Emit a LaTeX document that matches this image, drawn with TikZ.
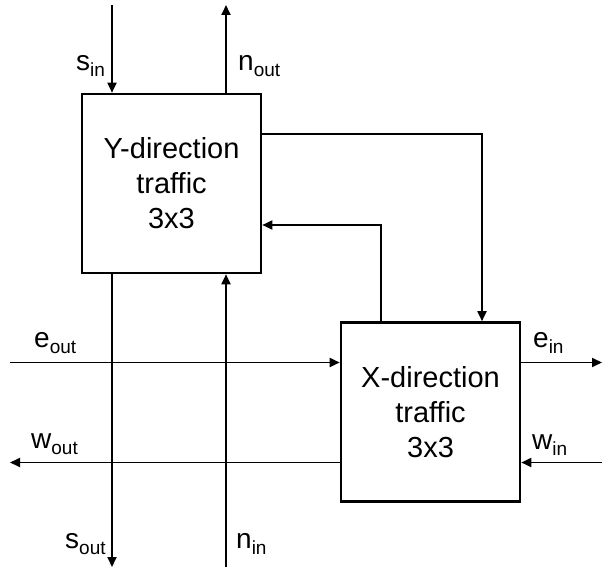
\documentclass[tikz,border=0pt]{standalone}
\usepackage{fontspec}
\setmainfont{Liberation Sans}
\usetikzlibrary{arrows.meta}
\newcommand{\lbl}[2]{#1\raisebox{-6pt}{\fontsize{19}{19}\selectfont #2}}
\tikzset{
  blk/.style={draw, line width=2.6pt, minimum width=179pt, minimum height=179pt, align=center, font=\fontsize{29}{35}\selectfont, inner sep=0pt},
  wire/.style={line width=1.8pt, -{Triangle[length=10pt,width=9pt]}},
  lab/.style={font=\fontsize{28}{28}\selectfont, inner sep=0pt, anchor=base west}
}
\begin{document}
\begin{tikzpicture}[x=1pt,y=-1pt]
\useasboundingbox (0,0) rectangle (602,575);
\node[blk] (Y) at (171.5,183.5) {Y-direction\\traffic\\3x3};
\node[blk] (X) at (430.5,412) {X-direction\\traffic\\3x3};
% vertical lines
\coordinate (sinT) at (112,5);
\coordinate (noutT) at (226,5);
\coordinate (soutB) at (112,567);
\coordinate (ninB) at (226,567);
\draw[wire] (sinT) -- (sinT |- Y.north);
\draw[wire] (noutT |- Y.north) -- (noutT);
\draw[wire] (sinT |- Y.south) -- (soutB);
\draw[wire] (ninB) -- (ninB |- Y.south);
% horizontal lines
\coordinate (eoutL) at (10,362.5);
\coordinate (woutL) at (10,462.5);
\coordinate (einR) at (602,362.5);
\coordinate (winR) at (602,462.5);
\draw[wire] (eoutL) -- (eoutL -| X.west);
\draw[wire] (woutL -| X.west) -- (woutL);
\draw[wire] (eoutL -| X.east) -- (einR);
\draw[wire] (winR) -- (winR -| X.east);
% feedback connectors
\coordinate (c1) at (482,134);
\draw[wire] (Y.east |- c1) -- (c1) -- (c1 |- X.north);
\coordinate (c2) at (381,225);
\draw[wire] (c2 |- X.north) -- (c2) -- (c2 -| Y.east);
% labels
\node[lab] (Ls) at (76,71) {\lbl{s}{in}};
\node[lab] (Ln) at (238,71) {\lbl{n}{out}};
\node[lab] (Le) at (34,347) {\lbl{e}{out}};
\node[lab] (Lei) at (533,347) {\lbl{e}{in}};
\node[lab] (Lw) at (31,448.5) {\lbl{w}{out}};
\node[lab] (Lwi) at (532,449.5) {\lbl{w}{in}};
\node[lab] (Lso) at (65,548.5) {\lbl{s}{out}};
\node[lab] (Lni) at (236,548.5) {\lbl{n}{in}};
\end{tikzpicture}
\end{document}
